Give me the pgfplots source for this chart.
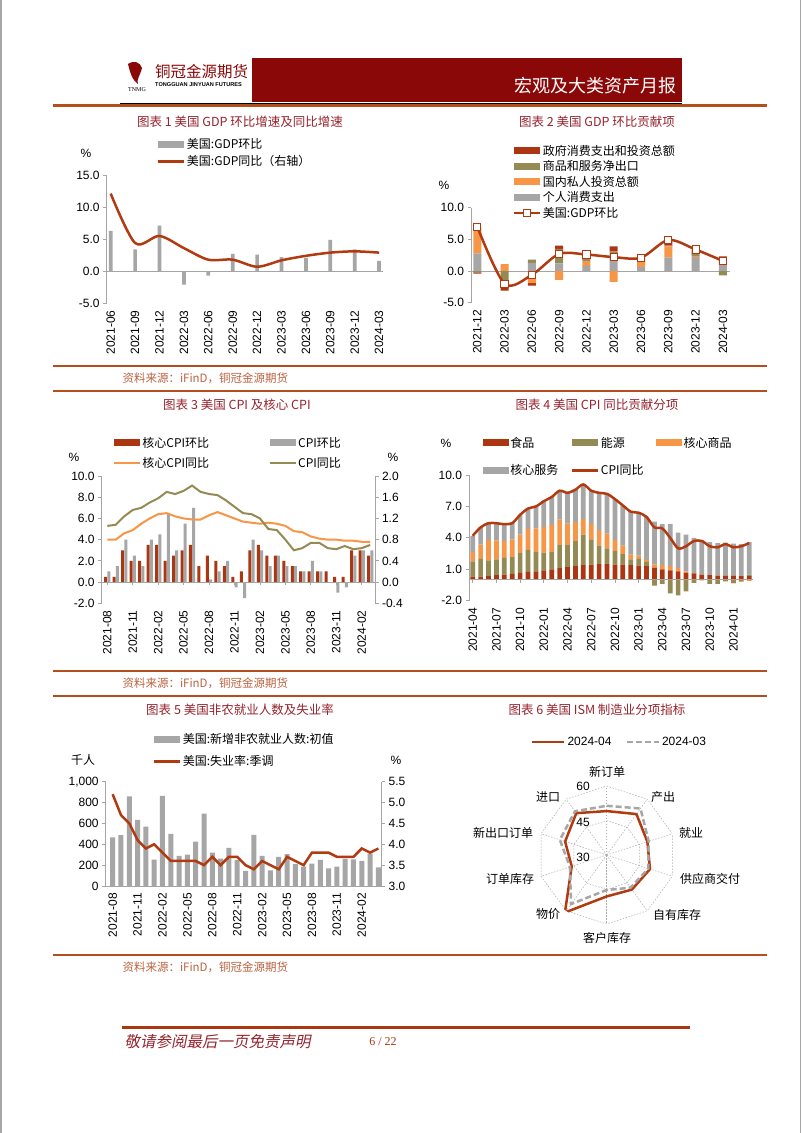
\documentclass[border=0pt]{standalone}
\usepackage{fontspec}
\setmainfont{Liberation Sans}
\newfontfamily\cjk{Noto Sans CJK SC}
\newfontfamily\cjkit[FakeSlant=0.2]{Noto Sans CJK SC}
\newfontfamily\serifft{Liberation Serif}
\usepackage{pgfplots}
\pgfplotsset{compat=1.18}
\usepackage{pgfplotstable}
\usepgfplotslibrary{polar}
\newcommand{\fs}[1]{\fontsize{#1}{#1}\selectfont}

\definecolor{cRed}{RGB}{172,54,18}
\definecolor{cLine}{RGB}{178,58,16}
\definecolor{cGray}{RGB}{166,166,166}
\definecolor{cOrange}{RGB}{247,150,70}
\definecolor{cOlive}{RGB}{148,138,84}
\definecolor{cBand}{RGB}{138,8,8}
\definecolor{cSep}{RGB}{180,78,28}
\definecolor{cTitle}{RGB}{150,35,45}
\definecolor{cSrc}{RGB}{185,100,65}
\definecolor{cAxis}{RGB}{165,165,165}

\pgfplotsset{
  myax/.style={scale only axis, anchor=north west,
    axis line style={-, cAxis, line width=0.8pt},
    tick style={cAxis, line width=0.8pt},
    tick align=outside, major tick length=3.5pt,
    tick label style={font=\fs{12}, text=black},
    /pgf/number format/assume math mode=true,
    xtick style={draw=none},
    xticklabel style={rotate=90, anchor=east, font=\fs{12}},
    legend style={draw=none, fill=none, inner sep=0pt, outer sep=0pt,
      font=\fs{12}\cjk, anchor=north west, row sep=0pt,
      nodes={inner sep=1.5pt}},
    legend cell align=left,
  },
  onedec/.style={yticklabel style={/pgf/number format/fixed, /pgf/number format/fixed zerofill, /pgf/number format/precision=1}},
  patchlegend/.style={legend image code/.code={\fill[##1] (0pt,-3.5pt) rectangle (26pt,3.5pt);}},
  linelegend/.style={legend image code/.code={\draw[mark repeat=2, mark phase=2, ##1] plot coordinates {(0pt,0pt) (13pt,0pt) (26pt,0pt)};}},
  longlegend/.style={legend image code/.code={\draw[##1] (0pt,0pt) -- (32pt,0pt);}},
  gridsty/.style={gray!65, line width=0.5pt, dash pattern=on 1.5pt off 1.5pt},
}

% ---------- data ----------
\pgfplotstableread{
x qoq yoy
0 6.3 12.1
1 3.4 4.4
2 7.1 5.5
3 -2.1 3.6
4 -0.7 1.8
5 2.7 1.8
6 2.6 0.7
7 2.2 1.7
8 2.1 2.4
9 4.9 2.9
10 3.4 3.1
11 1.6 2.9
}\gdpA

\pgfplotstableread{
x pceP invP nxP govP pceN invN nxN govN gdp
0 2.8 4.1 0 0 0 0 -0.2 -0.2 7.0
1 0 1.1 0 0 0 0 -2.6 -0.5 -2.0
2 1.3 0 0.5 0 0 -1.9 0 -0.4 -0.6
3 1.2 0 2.3 0.5 0 -1.4 0 0 2.7
4 0.8 0.7 0.3 0.8 0 0 0 0 2.6
5 2.5 0 0.6 0.8 0 -1.7 0 0 2.2
6 0.6 0.9 0 0.6 0 0 0 0 2.1
7 2.1 1.8 0.1 0.9 0 0 0 0 4.9
8 2.2 0.2 0.3 0.7 0 0 0 0 3.4
9 1.1 0.6 0 0.6 0 0 -0.7 0 1.6
}\gdpB

\pgfplotstableread{
x core cpi coreyoy cpiyoy
0 0.1 0.2 4.0 5.3
1 0.1 0.3 4.0 5.4
2 0.6 0.8 4.6 6.2
3 0.4 0.5 4.9 6.8
4 0.4 0.3 5.5 7.0
5 0.7 0.8 6.0 7.5
6 0.7 0.9 6.4 7.9
7 0.4 1.3 6.5 8.5
8 0.5 0.6 6.2 8.3
9 0.6 1.1 6.0 8.6
10 0.7 1.4 5.9 9.1
11 0.3 0.0 5.9 8.5
12 0.5 0.05 6.3 8.3
13 0.4 0.2 6.6 8.2
14 0.3 0.4 6.3 7.7
15 0.1 -0.1 6.0 7.1
16 0.2 -0.3 5.7 6.5
17 0.6 0.8 5.6 6.4
18 0.7 0.6 5.5 6.0
19 0.5 0.3 5.6 5.0
20 0.5 0.5 5.5 4.9
21 0.4 0.3 5.3 4.0
22 0.3 0.3 4.8 3.0
23 0.2 0.2 4.7 3.2
24 0.2 0.4 4.3 3.7
25 0.2 0.2 4.1 3.7
26 0.2 0.0 4.0 3.2
27 0.1 -0.2 4.0 3.1
28 0.1 -0.1 3.9 3.4
29 0.6 0.5 3.9 3.1
30 0.6 0.6 3.8 3.2
31 0.5 0.6 3.8 3.5
}\cpiA

\pgfplotstableread{
x food enP enN cgP cgN cs cpi
0 0.30 1.45 0 0.90 0 1.55 4.2
1 0.30 1.70 0 1.35 0 1.65 5.0
2 0.35 1.50 0 1.95 0 1.60 5.4
3 0.45 1.50 0 1.80 0 1.65 5.4
4 0.50 1.60 0 1.60 0 1.60 5.3
5 0.55 1.60 0 1.70 0 1.55 5.4
6 0.65 1.90 0 1.75 0 1.90 6.2
7 0.75 2.10 0 2.00 0 1.95 6.8
8 0.80 1.85 0 2.25 0 2.10 7.0
9 0.90 1.70 0 2.45 0 2.45 7.5
10 1.00 1.65 0 2.60 0 2.65 7.9
11 1.10 2.20 0 2.45 0 2.75 8.5
12 1.20 2.10 0 2.05 0 2.95 8.3
13 1.30 2.40 0 1.80 0 3.10 8.6
14 1.40 2.90 0 1.50 0 3.30 9.1
15 1.45 2.40 0 1.45 0 3.20 8.5
16 1.50 1.75 0 1.50 0 3.55 8.3
17 1.50 1.50 0 1.40 0 3.80 8.2
18 1.45 1.30 0 1.05 0 3.90 7.7
19 1.45 1.00 0 0.80 0 3.85 7.1
20 1.40 0.55 0 0.45 0 4.10 6.5
21 1.35 0.65 0 0.30 0 4.10 6.4
22 1.30 0.40 0 0.20 0 4.10 6.0
23 1.15 0 -0.55 0.30 0 4.10 5.0
24 1.00 0 -0.40 0.40 0 3.90 4.9
25 0.90 0 -1.30 0.40 0 4.00 4.0
26 0.80 0 -1.50 0.30 0 3.40 3.0
27 0.65 0 -1.10 0.15 0 3.50 3.2
28 0.60 0 -0.30 0.05 0 3.35 3.7
29 0.50 0 -0.05 0.00 0 3.25 3.7
30 0.45 0 -0.40 0.00 0 3.15 3.2
31 0.40 0 -0.40 0.00 0 3.10 3.1
32 0.40 0 -0.15 0.05 0 3.10 3.4
33 0.40 0 -0.30 0 -0.05 3.05 3.1
34 0.35 0 -0.15 0 -0.05 3.05 3.2
35 0.35 0.15 0 0 -0.10 3.10 3.5
}\cpiB

\pgfplotstableread{
x nfp ur
0 466 5.2
1 487 4.7
2 860 4.5
3 633 4.1
4 570 3.9
5 253 4.0
6 865 3.8
7 500 3.6
8 290 3.6
9 300 3.6
10 425 3.6
11 695 3.5
12 320 3.7
13 262 3.5
14 365 3.7
15 250 3.7
16 145 3.5
17 490 3.4
18 290 3.6
19 150 3.5
20 280 3.4
21 305 3.7
22 210 3.6
23 187 3.5
24 215 3.8
25 250 3.8
26 170 3.8
27 185 3.7
28 260 3.7
29 255 3.7
30 240 3.9
31 310 3.8
32 178 3.9
}\nfp

\begin{document}
\begin{tikzpicture}[x=1pt, y=-1pt]
\useasboundingbox (0,0) rectangle (802,1133);
\fill[white] (0,0) rectangle (802,1133);
\draw[gray!70, line width=1.5pt] (1,0) -- (1,1133);
\draw[gray!70, line width=1pt] (800.5,0) -- (800.5,1133);

% ---------- header ----------
\fill[cBand] (252,58) rectangle (682,102);
\node[anchor=east, text=white, font=\fs{18}\cjk] at (680,86) {宏观及大类资产月报};
\draw[black, line width=0.8pt] (120,103) -- (682,103);
\draw[cSep, line width=2.5pt] (53,105.5) -- (767,105.5);
\node[anchor=west, text=cBand, font=\fs{15.5}\cjk, inner sep=0pt] at (155,72) {铜冠金源期货};
\node[anchor=west, font=\fs{5.6}\bfseries, inner sep=0pt] at (155,85) {TONGGUAN JINYUAN FUTURES};
\node[font=\fs{6}\serifft, inner sep=0pt] at (137,90) {TNMG};
\fill[cBand] (128,64) .. controls (134,60) and (140,62) .. (142,68) .. controls (140,76) and (136,80) .. (138,84) .. controls (132,80) and (130,72) .. (128,64);

% ---------- titles ----------
\node[text=cTitle, font=\fs{12.5}\cjk] at (240,122) {图表 1 美国 GDP 环比增速及同比增速};
\node[text=cTitle, font=\fs{12.5}\cjk] at (597,122) {图表 2 美国 GDP 环比贡献项};
\node[text=cTitle, font=\fs{12.5}\cjk] at (237,405) {图表 3 美国 CPI 及核心 CPI};
\node[text=cTitle, font=\fs{12.5}\cjk] at (597,405) {图表 4 美国 CPI 同比贡献分项};
\node[text=cTitle, font=\fs{12.5}\cjk] at (240,710) {图表 5 美国非农就业人数及失业率};
\node[text=cTitle, font=\fs{12.5}\cjk] at (597,710) {图表 6 美国 ISM 制造业分项指标};

% ---------- sources ----------
\draw[cSep, line width=2pt] (53,366) -- (767,366);
\node[anchor=west, text=cSrc, font=\fs{11.5}\cjk] at (119,378.5) {资料来源：iFinD，铜冠金源期货};
\draw[cSep, line width=2pt] (53,391) -- (767,391);
\draw[cSep, line width=2pt] (53,671) -- (767,671);
\node[anchor=west, text=cSrc, font=\fs{11.5}\cjk] at (119,683.5) {资料来源：iFinD，铜冠金源期货};
\draw[cSep, line width=2pt] (53,696) -- (767,696);
\draw[cSep, line width=2pt] (53,955) -- (767,955);
\node[anchor=west, text=cSrc, font=\fs{11.5}\cjk] at (119,967.5) {资料来源：iFinD，铜冠金源期货};

% ---------- footer ----------
\draw[cRed, line width=3pt] (122,1027) -- (690,1027);
\node[anchor=west, text=cTitle, font=\fs{15.5}\cjkit] at (121,1042) {敬请参阅最后一页免责声明};
\node[text=cRed, font=\fs{12}\serifft] at (383,1042) {6 / 22};

% ---------- unit labels ----------
\node[font=\fs{12}] at (86,153) {\%};
\node[font=\fs{12}] at (444,185) {\%};
\node[font=\fs{12}] at (74,457) {\%};
\node[font=\fs{12}] at (393,457) {\%};
\node[font=\fs{12}] at (446,443) {\%};
\node[font=\fs{12}\cjk] at (83,760) {千人};
\node[font=\fs{12}] at (396,760) {\%};

% ================= Chart 1 =================
\begin{axis}[myax, onedec, at={(106.7pt,-175pt)}, width=276.3pt, height=128.3pt,
  xmin=-0.164, xmax=11.16, ymin=-5, ymax=15,
  axis y line*=left, axis x line*=bottom, x axis line style={draw=none},
  ytick={-5,0,5,10,15},
  xtick={0,...,11},
  xticklabels={2021-06,2021-09,2021-12,2022-03,2022-06,2022-09,2022-12,2023-03,2023-06,2023-09,2023-12,2024-03},
  legend style={at={(0.182,1.296)}, row sep=2.5pt}]
\draw[cAxis, line width=0.8pt] (axis cs:-0.164,0) -- (axis cs:11.16,0);
\addlegendimage{fill=cGray, draw=none, patchlegend}
\addlegendentry{美国:GDP环比}
\addplot[ybar, bar width=3.7pt, fill=cGray, draw=none, forget plot] table[x=x,y=qoq]{\gdpA};
\addplot[cLine, line width=2.5pt, smooth, linelegend] table[x=x,y=yoy]{\gdpA};
\addlegendentry{美国:GDP同比（右轴）}
\end{axis}

% ================= Chart 2 =================
\begin{axis}[myax, onedec, at={(471pt,-207.7pt)}, width=259pt, height=95pt,
  xmin=-0.23, xmax=9.26, ymin=-5, ymax=10,
  axis y line*=left, axis x line*=bottom, x axis line style={draw=none},
  ytick={-5,0,5,10}, xtick={0,...,9},
  xticklabels={2021-12,2022-03,2022-06,2022-09,2022-12,2023-03,2023-06,2023-09,2023-12,2024-03},
  ybar stacked, bar width=8pt]
\draw[cAxis, line width=0.8pt] (axis cs:-0.23,0) -- (axis cs:9.26,0);
\addplot[fill=cGray, draw=none] table[x=x,y=pceP]{\gdpB};
\addplot[fill=cOrange, draw=none] table[x=x,y=invP]{\gdpB};
\addplot[fill=cOlive, draw=none] table[x=x,y=nxP]{\gdpB};
\addplot[fill=cRed, draw=none] table[x=x,y=govP]{\gdpB};
\end{axis}
\begin{axis}[myax, at={(471pt,-207.7pt)}, width=259pt, height=95pt,
  xmin=-0.23, xmax=9.26, ymin=-5, ymax=10, hide axis,
  ybar stacked, bar width=8pt]
\addplot[fill=cGray, draw=none] table[x=x,y=pceN]{\gdpB};
\addplot[fill=cOrange, draw=none] table[x=x,y=invN]{\gdpB};
\addplot[fill=cOlive, draw=none] table[x=x,y=nxN]{\gdpB};
\addplot[fill=cRed, draw=none] table[x=x,y=govN]{\gdpB};
\end{axis}
\begin{axis}[myax, at={(471pt,-207.7pt)}, width=259pt, height=95pt,
  xmin=-0.23, xmax=9.26, ymin=-5, ymax=10, hide axis,
  legend style={at={(0.162,1.675)}, row sep=0.9pt}]
\addlegendimage{fill=cRed, draw=none, patchlegend}
\addlegendentry{政府消费支出和投资总额}
\addlegendimage{fill=cOlive, draw=none, patchlegend}
\addlegendentry{商品和服务净出口}
\addlegendimage{fill=cOrange, draw=none, patchlegend}
\addlegendentry{国内私人投资总额}
\addlegendimage{fill=cGray, draw=none, patchlegend}
\addlegendentry{个人消费支出}
\addplot[cLine, line width=2.5pt, smooth, mark=square*, mark size=3.6pt,
  mark options={fill=white, draw=cLine, line width=1pt, solid}, linelegend]
  table[x=x,y=gdp]{\gdpB};
\addlegendentry{美国:GDP环比}
\end{axis}

% ================= Chart 3 =================
\begin{axis}[myax, onedec, at={(101.7pt,-476pt)}, width=273.3pt, height=127.3pt,
  xmin=-0.66, xmax=31.57, ymin=-0.4, ymax=2.0,
  axis y line*=right, axis x line=none,
  ytick={-0.4,0,0.4,0.8,1.2,1.6,2.0}]
\draw[cAxis, line width=0.8pt] (axis cs:-0.66,0) -- (axis cs:31.57,0);
\pgfplotsinvokeforeach{0,3,...,30}{\draw[cAxis, line width=0.8pt] (axis cs:#1,0) -- ++(0pt,-3pt);}
\addplot[ybar, bar width=3pt, bar shift=-1.6pt, fill=cRed, draw=none] table[x=x,y=core]{\cpiA};
\addplot[ybar, bar width=3pt, bar shift=1.6pt, fill=cGray, draw=none] table[x=x,y=cpi]{\cpiA};
\end{axis}
\begin{axis}[myax, onedec, at={(101.7pt,-476pt)}, width=273.3pt, height=127.3pt,
  xmin=-0.66, xmax=31.57, ymin=-2, ymax=10,
  axis y line*=left, axis x line*=bottom, x axis line style={draw=none},
  ytick={-2,0,2,4,6,8,10}, xtick={0,3,...,30},
  xticklabels={2021-08,2021-11,2022-02,2022-05,2022-08,2022-11,2023-02,2023-05,2023-08,2023-11,2024-02},
  legend columns=2,
  legend style={at={(0.041,1.318)}, row sep=5.5pt, /tikz/every even column/.append style={column sep=58pt}}]
\addlegendimage{fill=cRed, draw=none, patchlegend}
\addlegendentry{核心CPI环比}
\addlegendimage{fill=cGray, draw=none, patchlegend}
\addlegendentry{CPI环比}
\addplot[cOrange, line width=2pt, linelegend] table[x=x,y=coreyoy]{\cpiA};
\addlegendentry{核心CPI同比}
\addplot[cOlive, line width=2pt, linelegend] table[x=x,y=cpiyoy]{\cpiA};
\addlegendentry{CPI同比}
\end{axis}

% ================= Chart 4 =================
\begin{axis}[myax, onedec, at={(469pt,-475pt)}, width=284pt, height=125.7pt,
  xmin=-0.47, xmax=35.48, ymin=-2, ymax=10,
  axis y line*=left, axis x line*=bottom, x axis line style={draw=none},
  ytick={-2,1,4,7,10}, xtick={0,3,...,33},
  xticklabels={2021-04,2021-07,2021-10,2022-01,2022-04,2022-07,2022-10,2023-01,2023-04,2023-07,2023-10,2024-01},
  ybar stacked, bar width=4.7pt]
\draw[cAxis, line width=0.8pt] (axis cs:-0.47,0) -- (axis cs:35.48,0);
\pgfplotsinvokeforeach{0,3,...,33}{\draw[cAxis, line width=0.8pt] (axis cs:#1,0) -- ++(0pt,-3pt);}
\addplot[fill=cRed, draw=none] table[x=x,y=food]{\cpiB};
\addplot[fill=cOlive, draw=none] table[x=x,y=enP]{\cpiB};
\addplot[fill=cOrange, draw=none] table[x=x,y=cgP]{\cpiB};
\addplot[fill=cGray, draw=none] table[x=x,y=cs]{\cpiB};
\end{axis}
\begin{axis}[myax, at={(469pt,-475pt)}, width=284pt, height=125.7pt,
  xmin=-0.47, xmax=35.48, ymin=-2, ymax=10, hide axis,
  ybar stacked, bar width=4.7pt]
\addplot[fill=cOlive, draw=none] table[x=x,y=enN]{\cpiB};
\addplot[fill=cOrange, draw=none] table[x=x,y=cgN]{\cpiB};
\end{axis}
\begin{axis}[myax, at={(469pt,-475pt)}, width=284pt, height=125.7pt,
  xmin=-0.47, xmax=35.48, ymin=-2, ymax=10, hide axis,
  legend columns=3,
  legend style={at={(0.049,1.315)}, row sep=13pt, /tikz/every even column/.append style={column sep=11pt}}]
\addlegendimage{fill=cRed, draw=none, patchlegend}
\addlegendentry{食品}
\addlegendimage{fill=cOlive, draw=none, patchlegend}
\addlegendentry{能源}
\addlegendimage{fill=cOrange, draw=none, patchlegend}
\addlegendentry{核心商品}
\addlegendimage{fill=cGray, draw=none, patchlegend}
\addlegendentry{核心服务}
\addplot[cLine, line width=2.5pt, smooth, linelegend] table[x=x,y=cpi]{\cpiB};
\addlegendentry{CPI同比}
\end{axis}

% ================= Chart 5 =================
\begin{axis}[myax, at={(105.7pt,-781.7pt)}, width=276pt, height=104.3pt,
  xmin=-0.84, xmax=32.4, ymin=0, ymax=1000,
  axis y line*=left, axis x line*=bottom,
  ytick={0,200,400,600,800,1000},
  yticklabel style={/pgf/number format/fixed, /pgf/number format/precision=0, /pgf/number format/1000 sep={,}},
  xtick={0,3,...,30},
  xticklabels={2021-08,2021-11,2022-02,2022-05,2022-08,2022-11,2023-02,2023-05,2023-08,2023-11,2024-02}]
\addplot[ybar, bar width=5pt, fill=cGray, draw=none] table[x=x,y=nfp]{\nfp};
\end{axis}
\begin{axis}[myax, onedec, at={(105.7pt,-781.7pt)}, width=276pt, height=104.3pt,
  xmin=-0.84, xmax=32.4, ymin=3, ymax=5.5,
  axis y line*=right, axis x line=none,
  ytick={3,3.5,4,4.5,5,5.5},
  legend style={at={(0.171,1.475)}, row sep=7.5pt}]
\addlegendimage{fill=cGray, draw=none, patchlegend}
\addlegendentry{美国:新增非农就业人数:初值}
\addplot[cLine, line width=2.5pt, linelegend] table[x=x,y=ur]{\nfp};
\addlegendentry{美国:失业率:季调}
\end{axis}

% ================= Chart 6 (radar) =================
\begin{polaraxis}[at={(606.7pt,-855pt)}, anchor=center, scale only axis,
  width=138pt, height=138pt, ymin=0, ymax=30,
  y filter/.expression={y-30}, hide axis,
  legend columns=2,
  legend style={draw=none, fill=none, inner sep=0pt, font=\fs{12}, at={(-0.05,1.37)}, anchor=north west,
    nodes={inner sep=2pt}, /tikz/every even column/.append style={column sep=12pt}}]
\pgfplotsinvokeforeach{90,54,18,342,306,270,234,198,162,126}{\addplot[gridsty, forget plot] coordinates {(#1,30) (#1,60)};}
\addplot[gridsty, forget plot] coordinates {(90,60) (54,60) (18,60) (342,60) (306,60) (270,60) (234,60) (198,60) (162,60) (126,60) (90,60)};
\addplot[gridsty, forget plot] coordinates {(90,45) (54,45) (18,45) (342,45) (306,45) (270,45) (234,45) (198,45) (162,45) (126,45) (90,45)};
\addplot[cLine, line width=2.5pt, line join=round, longlegend] coordinates {(90,49.1) (54,52.0) (18,48.6) (342,49.8) (306,48.6) (270,48.0) (234,60.9) (198,46.0) (162,49.0) (126,52.5) (90,49.1)};
\addlegendentry{2024-04}
\addplot[cGray, line width=2.5pt, dash pattern=on 6pt off 3pt, longlegend] coordinates {(90,51.4) (54,55.0) (18,49.2) (342,49.0) (306,47.6) (270,45.2) (234,56.4) (198,46.8) (162,51.4) (126,53.5) (90,51.4)};
\addlegendentry{2024-03}
\end{polaraxis}
\node[font=\fs{12}] at (583,786) {60};
\node[font=\fs{12}] at (583,822) {45};
\node[font=\fs{12}] at (583,857) {30};
\node[font=\fs{12}\cjk] at (607,772) {新订单};
\node[font=\fs{12}\cjk] at (663,797) {产出};
\node[font=\fs{12}\cjk] at (691,833) {就业};
\node[font=\fs{12}\cjk] at (710,879) {供应商交付};
\node[font=\fs{12}\cjk] at (677,915) {自有库存};
\node[font=\fs{12}\cjk] at (607,938) {客户库存};
\node[font=\fs{12}\cjk] at (548,914) {物价};
\node[font=\fs{12}\cjk] at (510,879) {订单库存};
\node[font=\fs{12}\cjk] at (503,833) {新出口订单};
\node[font=\fs{12}\cjk] at (548,797) {进口};
\end{tikzpicture}
\end{document}
